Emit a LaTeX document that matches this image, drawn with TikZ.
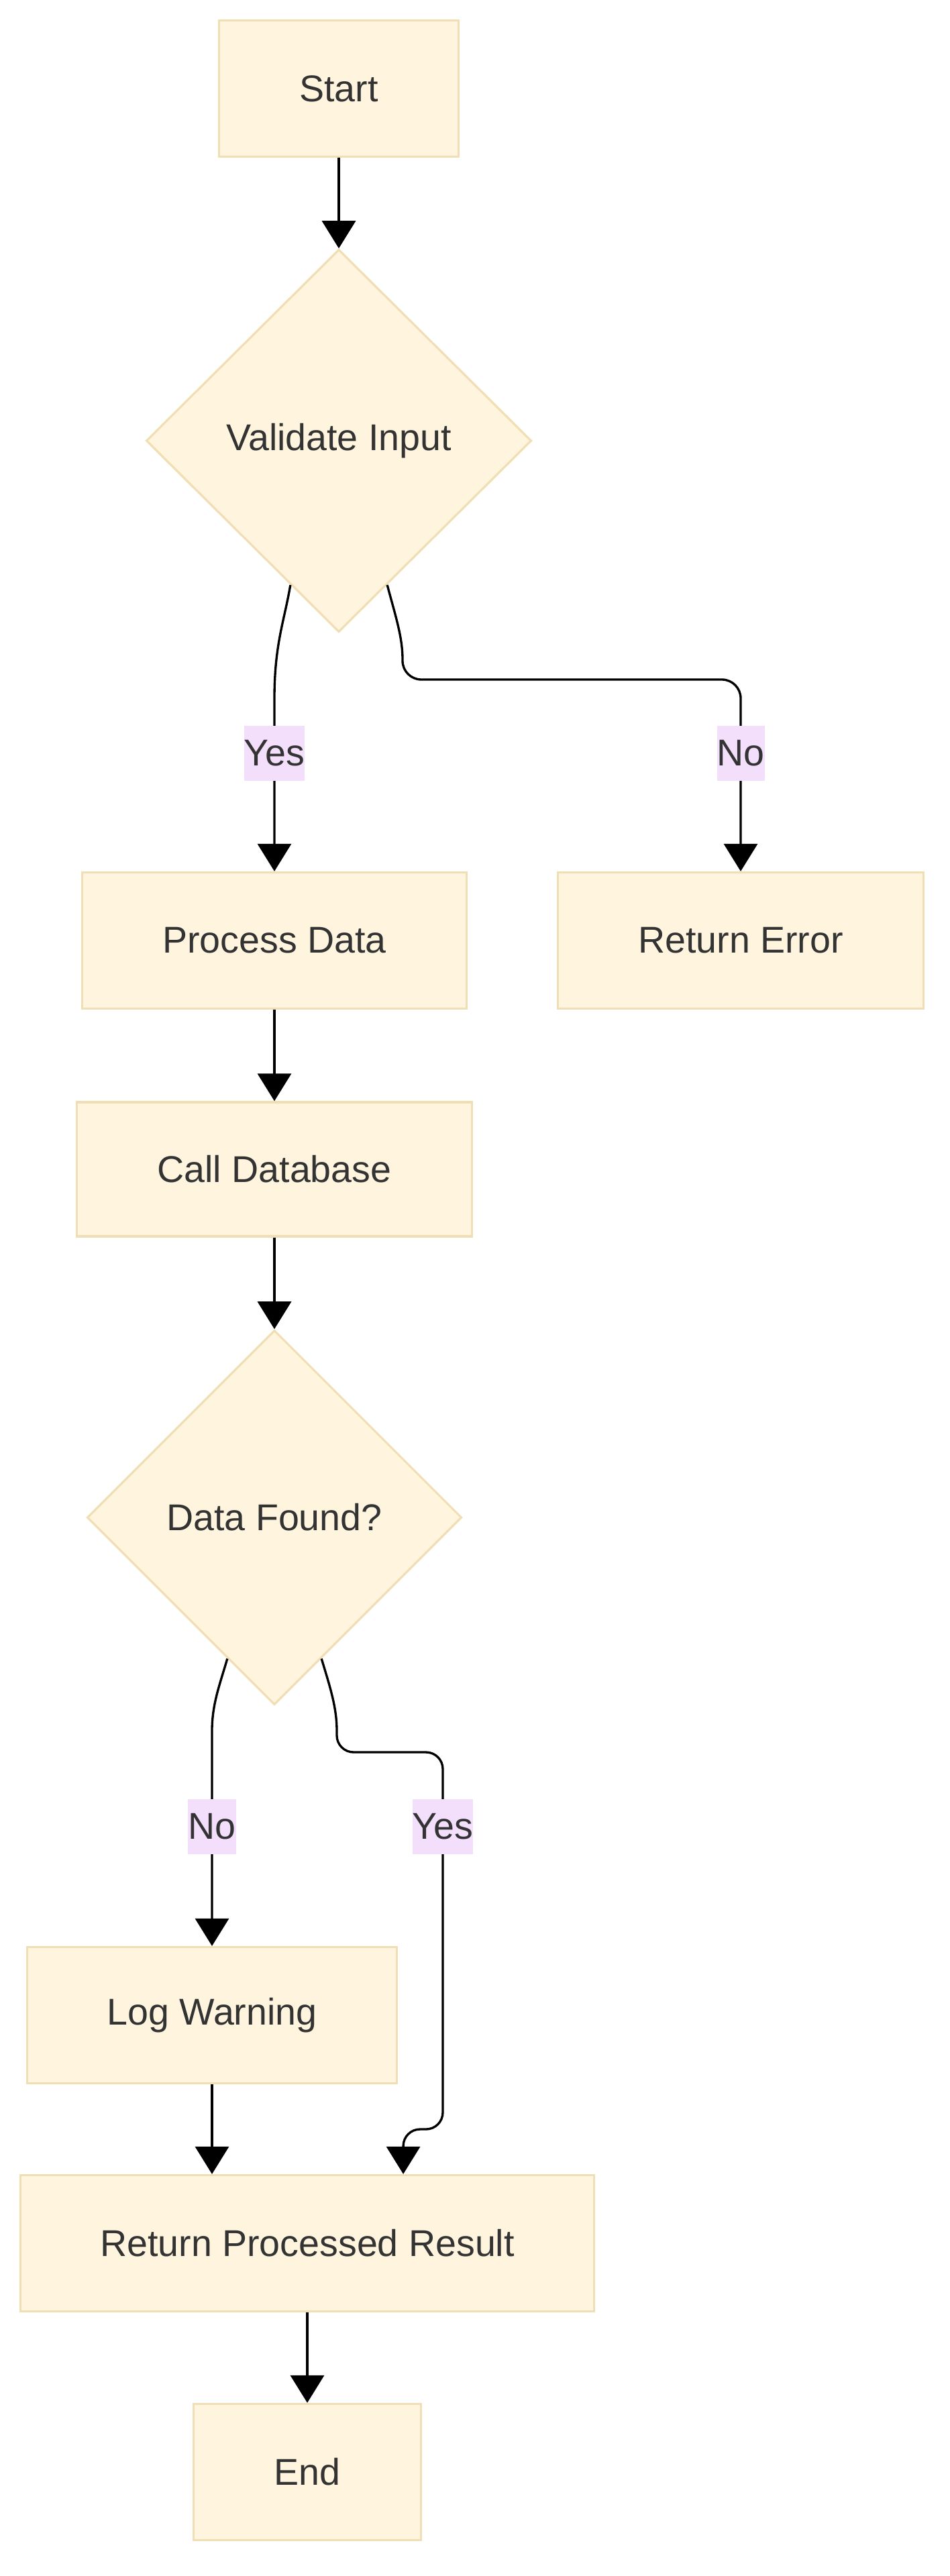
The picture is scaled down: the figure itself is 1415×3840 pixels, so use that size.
\documentclass[tikz,border=0pt]{standalone}
\usepackage{fontspec}
\setmainfont{Liberation Sans}
\usepackage{xcolor}
\usepackage{tikz}
\usetikzlibrary{shapes.geometric}
\usetikzlibrary{arrows.meta}
\usetikzlibrary{calc}
\definecolor{boxfill}{HTML}{FFF4DD}
\definecolor{boxline}{HTML}{F0DFB4}
\definecolor{lblfill}{HTML}{F3DEFC}
\definecolor{txt}{HTML}{333333}

\begin{document}
\begin{tikzpicture}[x=0.01cm,y=-0.01cm,
        every node/.style={font=\fontsize{15.8pt}{18pt}\selectfont,text=txt},
        block/.style={draw=boxline,fill=boxfill,line width=0.9pt,minimum height=2.03cm,inner sep=0pt},
        decision/.style={diamond,aspect=1,draw=boxline,fill=boxfill,line width=0.9pt,inner sep=0pt},
        lbl/.style={fill=lblfill,inner xsep=0pt,minimum height=0.82cm},
        edge/.style={line width=0.95pt,-{Triangle[width=0.5cm,length=0.41cm]}}]
        \useasboundingbox (0,0) rectangle (1415,3840);
        \node[block,minimum width=3.57cm] (start) at (505,132) {Start};
        \node[decision,minimum width=5.74cm,minimum height=5.7cm] (validate) at (505,657) {Validate Input};
        \node[block,minimum width=5.73cm] (process) at (409,1402) {Process Data};
        \node[block,minimum width=5.45cm] (error) at (1104,1402) {Return Error};
        \node[block,minimum width=5.88cm,minimum height=2cm] (calldb) at (409,1743) {Call Database};
        \node[decision,minimum width=5.58cm,minimum height=5.58cm] (found) at (409,2262) {Data Found?};
        \node[block,minimum width=5.51cm] (logwarn) at (316,3004) {Log Warning};
        \node[block,minimum width=8.55cm] (result) at (458,3344) {Return Processed Result};
        \node[block,minimum width=3.38cm] (finish) at (458,3685) {End};
        \coordinate (v1) at ($(validate.south)!0.25!(validate.west)$);
        \coordinate (v2) at ($(validate.south)!0.25!(validate.east)$);
        \coordinate (f1) at ($(found.south)!0.25!(found.west)$);
        \coordinate (f2) at ($(found.south)!0.25!(found.east)$);
        \draw[edge] (start.south)--(validate.north);
        \draw[edge] (v1) .. controls (424,925) and (409,960) .. (409,1041)--(process.north);
        \draw[edge] (v2) .. controls (590,920) and (600,950) .. (600,983) [rounded corners=0.28cm]--(600,1013)-|(error.north);
        \draw[edge] (process.south)--(calldb.north);
        \draw[edge] (calldb.south)--(found.north);
        \draw[edge] (f1) .. controls (328,2510) and (316,2540) .. (316,2580)--(logwarn.north);
        \draw[edge] (f2) .. controls (492,2515) and (502,2545) .. (502,2580) [rounded corners=0.25cm]--(502,2612)--(660,2612)--(660,3174)-|([xshift=1.43cm]result.north);
        \draw[edge] (logwarn.south)--(logwarn.south|-result.north);
        \draw[edge] (result.south)--(finish.north);
        \node[lbl] (yes1) at (409,1123) {Yes};
        \node[lbl] (no1) at (1104,1123) {No};
        \node[lbl] (no2) at (316,2723) {No};
        \node[lbl] (yes2) at (660,2723) {Yes};
    \end{tikzpicture}
\end{document}
